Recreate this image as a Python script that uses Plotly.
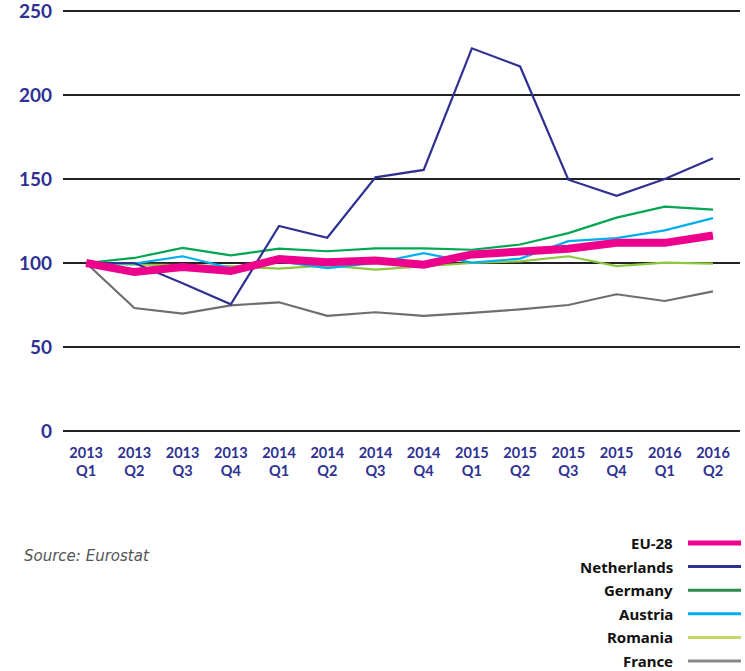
import plotly.graph_objects as go

categories = ["2013<br>Q1", "2013<br>Q2", "2013<br>Q3", "2013<br>Q4",
              "2014<br>Q1", "2014<br>Q2", "2014<br>Q3", "2014<br>Q4",
              "2015<br>Q1", "2015<br>Q2", "2015<br>Q3", "2015<br>Q4",
              "2016<br>Q1", "2016<br>Q2"]

eu28 = [100, 94.6, 97.6, 95.2, 102.3, 100.5, 101.5, 99, 105.1, 107, 108.5, 112, 112, 116.4]
netherlands = [100, 100, 88, 75.4, 122, 115, 151, 155.4, 227.8, 217, 149.6, 140, 150, 162.3]
germany = [100, 103, 109, 104.5, 108.5, 107, 108.7, 108.7, 107.9, 111, 117.8, 127, 133.6, 131.8]
austria = [100, 99.6, 104, 97, 101, 97, 100, 105.9, 100.2, 102.6, 113, 114.8, 119.4, 126.7]
romania = [100, 99, 98.8, 98.2, 96.6, 98.6, 96, 98, 100, 101, 104, 98.2, 100.2, 99.6]
france = [100, 73.2, 69.9, 74.8, 76.6, 68.5, 70.7, 68.5, 70.3, 72.4, 75, 81.4, 77.4, 83.1]

y_ticks = [0, 50, 100, 150, 200, 250]

series_names = ["EU-28", "Netherlands", "Germany", "Austria", "Romania", "France"]
series_values = [eu28, netherlands, germany, austria, romania, france]
series_colors = ["#EC008C", "#2E3192", "#00A651", "#00AEEF", "#8DC63F", "#6D6E71"]
legend_colors = ["#EC008C", "#2E3192", "#2E8B4F", "#00AEEF", "#C5D86D", "#8A8A8A"]
series_widths = [8, 2.2, 2.2, 2.2, 2.2, 2.2]

W, H = 745, 671
ML, MR, MT, MB = 63, 5, 10, 240
plot_h = H - MT - MB


def py_to_paper(py):
    return (H - MB - py) / plot_h


def px_to_paper(px):
    return (px - ML) / (W - ML - MR)


fig = go.Figure()
# draw thinner lines first, EU-28 on top
order = [5, 4, 3, 2, 1, 0]
for i in order:
    fig.add_trace(go.Scatter(
        x=categories, y=series_values[i], name=series_names[i], mode="lines",
        line=dict(color=series_colors[i], width=series_widths[i]),
        showlegend=False,
    ))

# custom legend: text right aligned, line sample on the right
legend_y0 = 543
legend_step = 23.6
annotations = []
shapes = []
for k, name in enumerate(series_names):
    yy = py_to_paper(legend_y0 + k * legend_step)
    annotations.append(dict(
        x=px_to_paper(675), y=yy, xref="paper", yref="paper",
        text=name, showarrow=False, xanchor="right", yanchor="middle",
        font=dict(family="Noto Sans", size=15, color="#111111", weight="bold"),
    ))
    shapes.append(dict(
        type="line", xref="paper", yref="paper",
        x0=px_to_paper(688), x1=px_to_paper(741), y0=yy, y1=yy,
        line=dict(color=legend_colors[k], width=5 if k == 0 else 3),
    ))

annotations.append(dict(
    x=px_to_paper(22), y=py_to_paper(556), xref="paper", yref="paper",
    text="<i>Source: Eurostat</i>", showarrow=False, xanchor="left", yanchor="middle",
    font=dict(family="DejaVu Sans", size=15, color="#555555"),
))

fig.update_layout(
    width=W, height=H,
    margin=dict(l=ML, r=MR, t=MT, b=MB, autoexpand=False),
    paper_bgcolor="white", plot_bgcolor="white",
    annotations=annotations, shapes=shapes,
    showlegend=False,
)
fig.update_xaxes(
    type="category", range=[-0.48, 13.56], automargin=False,
    showgrid=False, showline=False, zeroline=False,
    tickfont=dict(family="Lato, sans-serif", size=14.5, color="#2E3192", weight="bold"),
    ticks="", ticklabelstandoff=11,
)
fig.update_yaxes(
    range=[0, 250.6], tickvals=y_ticks, automargin=False,
    showgrid=True, gridcolor="#222222", gridwidth=1.5,
    zeroline=True, zerolinecolor="#222222", zerolinewidth=1.5,
    showline=False, ticklabeloverflow="allow",
    tickfont=dict(family="Lato", size=19, color="#2E3192", weight="bold"),
    ticks="", ticklabelstandoff=10,
)

fig.write_html("out.html", config={"displayModeBar": False},
               post_script="document.body.style.margin='0';")
